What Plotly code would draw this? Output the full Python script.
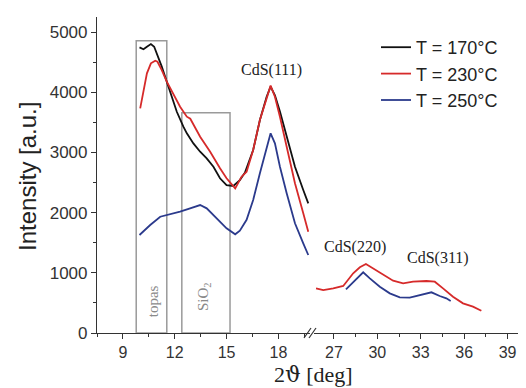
import plotly.graph_objects as go

# ---- data ----
# left segment (2theta 9..20)
x170_a = [9.96, 10.19, 10.39, 10.62, 10.81, 11.0, 11.25, 11.54, 11.83, 12.12, 12.5, 12.7, 13.08, 13.47, 13.85, 14.24, 14.62, 15.0, 15.39, 15.77, 16.06, 16.54, 16.93, 17.32, 17.55, 17.8, 18.09, 18.48, 18.96, 19.44, 19.73]
y170_a = [4745, 4713, 4755, 4800, 4755, 4618, 4425, 4175, 3925, 3676, 3427, 3317, 3150, 3012, 2902, 2763, 2570, 2458, 2442, 2540, 2663, 3040, 3538, 3925, 4092, 3950, 3680, 3261, 2763, 2375, 2154]

x230_a = [10.0, 10.19, 10.39, 10.62, 10.87, 11.0, 11.25, 11.54, 11.93, 12.31, 12.7, 12.9, 13.47, 14.05, 14.62, 15.0, 15.5, 15.87, 16.16, 16.54, 16.93, 17.32, 17.55, 17.8, 18.09, 18.48, 18.96, 19.44, 19.73]
y230_a = [3733, 4036, 4314, 4480, 4523, 4507, 4369, 4175, 3953, 3760, 3594, 3560, 3261, 3012, 2736, 2570, 2403, 2597, 2680, 3040, 3538, 3925, 4110, 3925, 3594, 3095, 2487, 1988, 1683]

x250_a = [9.96, 10.58, 11.16, 11.73, 12.31, 12.89, 13.47, 13.85, 14.43, 15.0, 15.5, 15.77, 16.16, 16.54, 16.93, 17.32, 17.55, 17.8, 18.09, 18.48, 18.96, 19.44, 19.73]
y250_a = [1628, 1794, 1932, 1972, 2015, 2071, 2126, 2071, 1905, 1739, 1640, 1700, 1880, 2209, 2653, 3068, 3317, 3151, 2763, 2321, 1822, 1490, 1296]

# right segment (2theta 26..37)
x230_b = [25.76, 26.26, 26.95, 27.64, 28.33, 28.79, 29.21, 29.71, 30.4, 31.09, 31.78, 32.47, 33.39, 33.97, 34.54, 35.23, 35.92, 36.61, 37.19]
y230_b = [742, 714, 742, 781, 992, 1091, 1146, 1075, 963, 869, 825, 852, 864, 852, 742, 603, 493, 437, 370]

x250_b = [27.83, 28.33, 28.79, 29.02, 29.48, 30.17, 30.86, 31.55, 32.24, 32.93, 33.74, 34.31, 34.77, 35.07]
y250_b = [726, 852, 963, 1008, 908, 769, 659, 593, 587, 631, 676, 615, 576, 532]

series_names = ["T = 170°C", "T = 230°C", "T = 250°C"]
colors = ["#111111", "#d62a2a", "#2b3a8c"]

peak_labels = ["CdS(111)", "CdS(220)", "CdS(311)"]
peak_x = [17.6, 28.45, 34.2]
peak_y = [4370, 1435, 1240]

box_topas = [9.77, 11.54, 4855]
box_sio2 = [12.41, 15.2, 3660]

left_ticks = [9, 12, 15, 18]
right_ticks = [27, 30, 33, 36, 39]

fig = go.Figure()
lw = 1.8
fig.add_trace(go.Scatter(x=x170_a, y=y170_a, mode="lines", name=series_names[0],
                         line=dict(color=colors[0], width=lw), xaxis="x", yaxis="y"))
fig.add_trace(go.Scatter(x=x230_a, y=y230_a, mode="lines", name=series_names[1],
                         line=dict(color=colors[1], width=lw), xaxis="x", yaxis="y"))
fig.add_trace(go.Scatter(x=x250_a, y=y250_a, mode="lines", name=series_names[2],
                         line=dict(color=colors[2], width=lw), xaxis="x", yaxis="y"))
fig.add_trace(go.Scatter(x=x230_b, y=y230_b, mode="lines", showlegend=False,
                         line=dict(color=colors[1], width=lw), xaxis="x2", yaxis="y"))
fig.add_trace(go.Scatter(x=x250_b, y=y250_b, mode="lines", showlegend=False,
                         line=dict(color=colors[2], width=lw), xaxis="x2", yaxis="y"))

OFF = 8  # page body margin
W, H = 526 - OFF, 388 - OFF
L, R, T, B = 97 - OFF, 4, 17 - OFF, 55
pw = W - L - R
ph = H - T - B

def px(x):
    return (x - 97) / pw

def py(y):
    return (333 - y) / ph

tickfont = dict(family="Liberation Sans, Arial", size=16, color="#333")
axcommon = dict(showline=True, linecolor="#333", linewidth=1.2, showgrid=False, zeroline=False,
                ticks="outside", ticklen=5, tickwidth=1.2, tickcolor="#333", tickfont=tickfont)

fig.update_layout(
    width=W, height=H,
    margin=dict(l=L, r=R, t=T, b=B),
    paper_bgcolor="white", plot_bgcolor="white",
    xaxis=dict(domain=[0, px(310)], range=[7.5, 19.83], tickvals=left_ticks, anchor="y",
               minor=dict(ticks="outside", ticklen=3, tickwidth=1, tickcolor="#333",
                          tick0=9, dtick=1.5, showgrid=False), **axcommon),
    xaxis2=dict(domain=[px(314), 1], range=[25.62, 40], tickvals=right_ticks, anchor="y",
                minor=dict(ticks="outside", ticklen=3, tickwidth=1, tickcolor="#333",
                           tick0=27, dtick=1.5, showgrid=False), **axcommon),
    yaxis=dict(range=[0, 5250], tickvals=[0, 1000, 2000, 3000, 4000, 5000], anchor="x",
               minor=dict(ticks="outside", ticklen=3, tickwidth=1, tickcolor="#333",
                          dtick=500, showgrid=False),
               **{**axcommon, "tickfont": dict(family="Liberation Sans, Arial", size=17, color="#333")}),
    legend=dict(x=px(376), y=py(29), xanchor="left", yanchor="top",
                bgcolor="rgba(0,0,0,0)", font=dict(family="Liberation Sans, Arial", size=18, color="#222"),
                tracegroupgap=0),
    showlegend=True,
)

# boxes
for x0, x1, top in [box_topas, box_sio2]:
    fig.add_shape(type="rect", xref="x", yref="y", x0=x0, x1=x1, y0=0, y1=top,
                  line=dict(color="#9a9a9a", width=1.5), fillcolor="rgba(0,0,0,0)", layer="below")

# box labels
fig.add_annotation(x=10.75, y=530, xref="x", yref="y", text="topas", textangle=-90, showarrow=False,
                   font=dict(family="Liberation Serif, Times New Roman", size=15, color="#8a8a8a"))
fig.add_annotation(x=13.7, y=600, xref="x", yref="y", text="SiO<sub>2</sub>", textangle=-90, showarrow=False,
                   font=dict(family="Liberation Serif, Times New Roman", size=15, color="#8a8a8a"))

# peak labels
for i, (t, xx, yy) in enumerate(zip(peak_labels, peak_x, peak_y)):
    fig.add_annotation(x=xx, y=yy, xref="x" if i == 0 else "x2", yref="y", text=t, showarrow=False,
                       font=dict(family="Liberation Serif, Times New Roman", size=16, color="#222"))

# axis titles
fig.add_annotation(x=px(27), y=py(177), xref="paper", yref="paper", text="Intensity [a.u.]",
                   textangle=-90, showarrow=False, xanchor="center", yanchor="middle",
                   font=dict(family="Liberation Sans, Arial", size=24, color="#222"))
fig.add_annotation(x=px(313), y=py(374), xref="paper", yref="paper",
                   text="2<span style='font-family:DejaVu Serif'>ϑ</span> [deg]", showarrow=False,
                   xanchor="center", yanchor="middle",
                   font=dict(family="Liberation Serif, Times New Roman", size=22, color="#222"))

# axis break marks
for off in (0, 5):
    fig.add_shape(type="line", xref="paper", yref="paper",
                  x0=px(304 + off), y0=py(338), x1=px(311 + off), y1=py(328),
                  line=dict(color="#333", width=1.2))

fig.write_html("out.html")
